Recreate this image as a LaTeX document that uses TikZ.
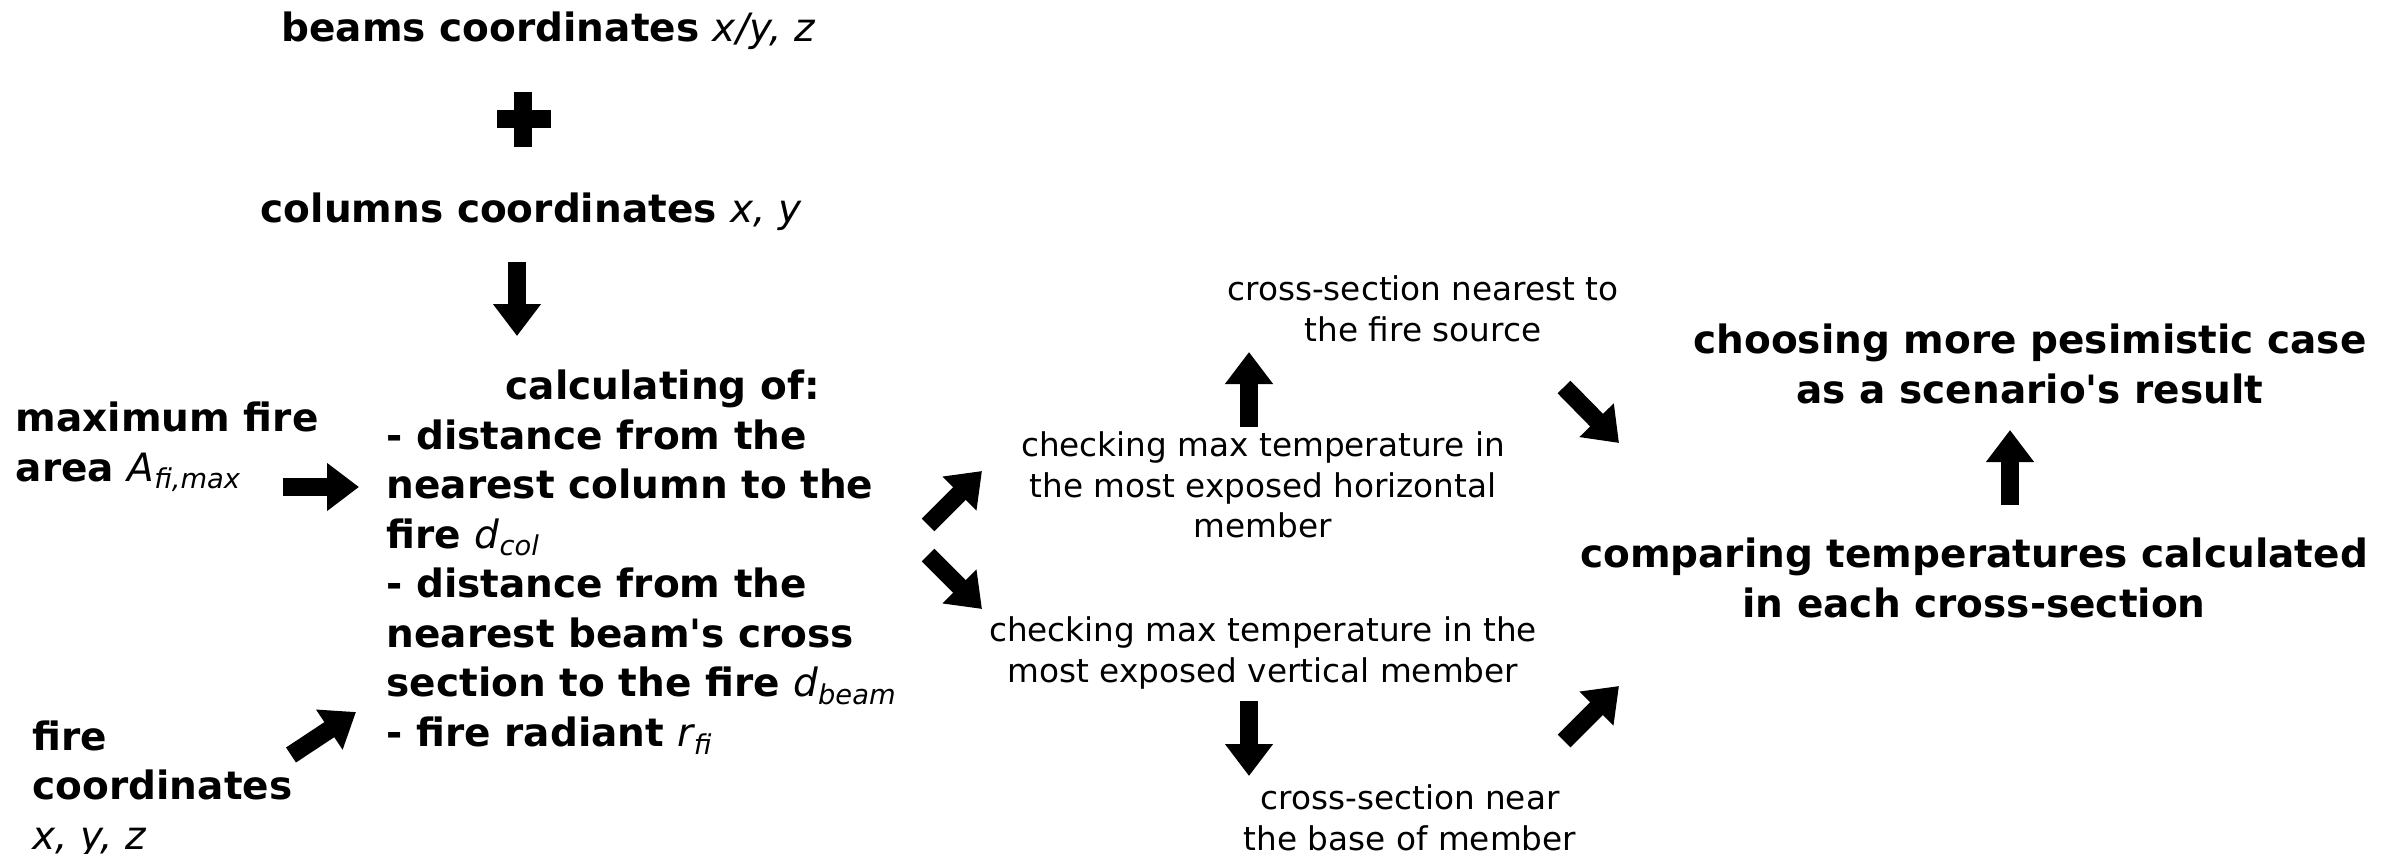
\documentclass[tikz,border=0pt]{standalone}
\usepackage{fontspec}
\setmainfont{DejaVu Sans}[Ligatures=TeXOff]
\usetikzlibrary{arrows.meta}
\newcommand\vit[1]{{\normalfont\itshape #1}}
\newcommand\vsub[2]{{\normalfont\itshape #1\textsubscript{#2}}}
\tikzset{
  boldtxt/.style={font=\fontsize{11.1}{14.1}\selectfont\bfseries, align=center, inner sep=0pt},
  boldleft/.style={font=\fontsize{11.1}{14.1}\selectfont\bfseries, align=left, inner sep=0pt},
  regtxt/.style={font=\fontsize{9.3}{11.6}\selectfont, align=center, inner sep=0pt},
  blockarrow/.style={line width=1.8mm, -{Triangle[length=3.2mm,width=4.6mm]}},
}
\begin{document}
\begin{tikzpicture}[x=0.1mm,y=-0.1mm]
\useasboundingbox (0,0) rectangle (2400,854);
% texts
\node[boldtxt] (beams) at (548,31) {beams coordinates \vit{x/y, z}};
\node[boldtxt] (cols) at (531,212) {columns coordinates \vit{x, y}};
\node[boldleft, anchor=west] (calc) at (386,562) {\hspace*{11.9mm}calculating of:\\
- distance from the\\
nearest column to the\\
fire \vsub{d}{col}\\
- distance from the\\
nearest beam's cross\\
section to the fire \vsub{d}{beam}\\
- fire radiant \vsub{r}{fi}};
\node[boldleft, anchor=west] (area) at (15,447) {maximum fire\\area \vsub{A}{fi,max}};
\node[boldleft, anchor=west] (firec) at (32,789) {fire\\coordinates\\\vit{x, y, z}};
\node[regtxt] (horiz) at (1263,485) {checking max temperature in\\the most exposed horizontal\\member};
\node[regtxt] (near) at (1423,309) {cross-section nearest to\\the fire source};
\node[regtxt] (vert) at (1263,653) {checking max temperature in the\\most exposed vertical member};
\node[regtxt] (base) at (1410,818) {cross-section near\\the base of member};
\node[boldtxt] (comp) at (1974,578) {comparing temperatures calculated\\in each cross-section};
\node[boldtxt] (choose) at (2030,364) {choosing more pesimistic case\\as a scenario's result};
% plus sign
\fill (497,110) rectangle (551,128);
\fill (514,92) rectangle (532,147);
% arrow end points
\coordinate (a1s) at (517,262); \coordinate (a1e) at (517,336);
\coordinate (a2s) at (283,487); \coordinate (a2e) at (359,487);
\coordinate (a3s) at (291,755); \coordinate (a3e) at (356,712);
\coordinate (a4s) at (928,525); \coordinate (a4e) at (982,471);
\coordinate (a5s) at (928,555); \coordinate (a5e) at (982,609);
\coordinate (a6s) at (1249,427); \coordinate (a6e) at (1249,352);
\coordinate (a7s) at (1249,701); \coordinate (a7e) at (1249,776);
\coordinate (a8s) at (1564,387); \coordinate (a8e) at (1619,443);
\coordinate (a9s) at (1564,741); \coordinate (a9e) at (1619,686);
\coordinate (a10s) at (2010,505); \coordinate (a10e) at (2010,430);
\foreach \i in {1,...,10} \draw[blockarrow] (a\i s) -- (a\i e);
\end{tikzpicture}
\end{document}
